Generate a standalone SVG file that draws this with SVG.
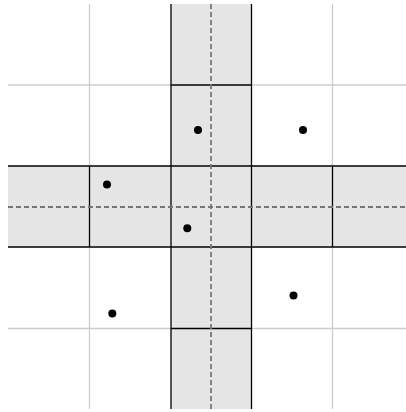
<svg xmlns="http://www.w3.org/2000/svg" width="406" height="412" viewBox="0 0 406 412">
<style>
.g{stroke:#cccccc;stroke-width:1.3;fill:none}
.k{stroke:#000;stroke-width:1.3;fill:none}
.band{fill:#e5e5e5;stroke:none}
.d{stroke:#777;stroke-width:1.8;stroke-dasharray:5,3;fill:none}
.p{fill:#000}
</style>
<rect width="406" height="412" fill="#fff"/>
<g id="bands">
<rect class="band" x="171" y="4" width="80.5" height="405"/>
<rect class="band" x="8" y="166" width="398" height="81"/>
</g>
<g id="grid">
<line class="g" x1="89.5" y1="4" x2="89.5" y2="166"/>
<line class="g" x1="89.5" y1="247" x2="89.5" y2="409"/>
<line class="g" x1="332.5" y1="4" x2="332.5" y2="166"/>
<line class="g" x1="332.5" y1="247" x2="332.5" y2="409"/>
<line class="g" x1="8" y1="85" x2="171" y2="85"/>
<line class="g" x1="251.5" y1="85" x2="406" y2="85"/>
<line class="g" x1="8" y1="328.5" x2="171" y2="328.5"/>
<line class="g" x1="251.5" y1="328.5" x2="406" y2="328.5"/>
</g>
<g id="cells">
<line class="k" x1="171" y1="4" x2="171" y2="409"/>
<line class="k" x1="251.5" y1="4" x2="251.5" y2="409"/>
<line class="k" x1="8" y1="166" x2="406" y2="166"/>
<line class="k" x1="8" y1="247" x2="406" y2="247"/>
<line class="k" x1="89.5" y1="166" x2="89.5" y2="247"/>
<line class="k" x1="332.5" y1="166" x2="332.5" y2="247"/>
<line class="k" x1="171" y1="85" x2="251.5" y2="85"/>
<line class="k" x1="171" y1="328.5" x2="251.5" y2="328.5"/>
</g>
<g id="axes">
<line class="d" x1="211" y1="4" x2="211" y2="409"/>
<line class="d" x1="8" y1="207" x2="406" y2="207"/>
</g>
<g id="points">
<circle class="p" cx="198" cy="130" r="4"/>
<circle class="p" cx="303" cy="130" r="4"/>
<circle class="p" cx="107" cy="184.5" r="4"/>
<circle class="p" cx="187.3" cy="228.3" r="4"/>
<circle class="p" cx="293.5" cy="295.5" r="4"/>
<circle class="p" cx="112.3" cy="313.5" r="4"/>
</g>
</svg>
